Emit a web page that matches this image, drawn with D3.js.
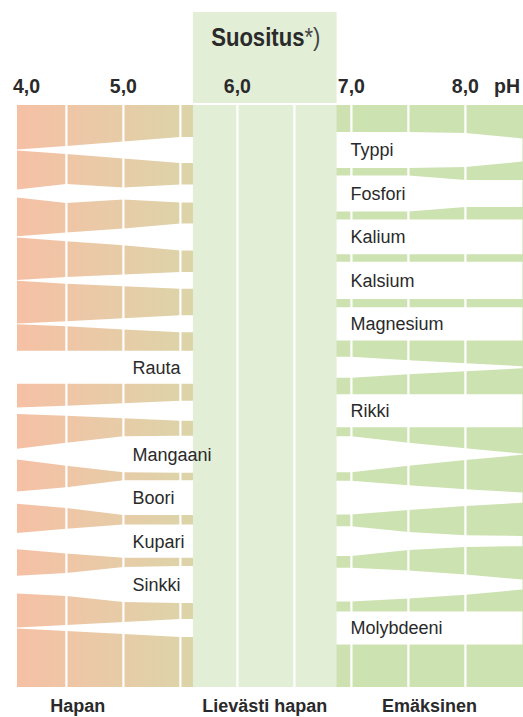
<!DOCTYPE html>
<html>
<head>
<meta charset="utf-8">
<script src="https://cdn.jsdelivr.net/npm/d3@7"></script>
<style>
  body { margin: 0; background: #fff; }
  text { font-family: "Liberation Sans", Arial, sans-serif; fill: #2a2a2a; }
</style>
</head>
<body>
<div id="chart"></div>
<script>
// pH points where the availability is given
const pHs = [4, 4.5, 5, 5.5, 6, 6.5, 7, 7.5, 8, 8.5];

const nutrients = ["Typpi", "Fosfori", "Kalium", "Kalsium", "Magnesium", "Rauta",
    "Rikki", "Mangaani", "Boori", "Kupari", "Sinkki", "Molybdeeni"];
const labelSide = ["right", "right", "right", "right", "right", "left",
    "right", "left", "left", "left", "left", "right"];

// relative availability (0-10) at each pH above
const typpi = [0, 2.2, 4.7, 7.2, 7.2, 10, 10, 10, 9.4, 6.4];
const fosfori = [1.7, 5.3, 3.3, 5, 5, 10, 10, 10, 7.5, 7.5];
const kalium = [0, 2.4, 4.7, 7.5, 7.5, 9.7, 9.7, 9.7, 9.7, 9.7];
const kalsium = [0, 1.9, 3.3, 4.7, 4.7, 10.3, 10.3, 10.3, 10.3, 10.3];
const magnesium = [0, 1.4, 3.1, 4.7, 4.7, 9.2, 9.2, 9.2, 9.2, 9.2];
const rauta = [9.2, 9.2, 9.2, 9.2, 9.2, 5.8, 5.8, 3.9, 2.2, 0.6];
const rikki = [1.7, 2.8, 4.2, 5.6, 5.6, 9.2, 9.2, 9.2, 9.2, 9.2];
const mangaani = [2.5, 6.4, 10, 10.3, 10.3, 10, 10, 6.4, 3.3, 0.3];
const boori = [3.1, 5.8, 9.7, 9.7, 9.7, 9.4, 9.4, 6.9, 4.7, 2.8];
const kupari = [4.2, 6.9, 9.2, 9.2, 9.2, 8.3, 8.3, 5, 3.3, 2.8];
const sinkki = [4.7, 6.4, 9.7, 10.3, 10.3, 9.4, 9.4, 7.8, 5.6, 2.8];
const molybdeeni = [0, 1.7, 3.3, 5, 5, 9.2, 9.2, 9.2, 9.2, 9.2];
const series = [typpi, fosfori, kalium, kalsium, magnesium, rauta,
    rikki, mangaani, boori, kupari, sinkki, molybdeeni];

const tickValues = [4, 5, 6, 7, 8];
const gridValues = [4.5, 5, 5.5, 6, 6.5, 7, 7.5, 8];
const recommended = [5.61, 6.87];
const zones = [
    { label: "Hapan", pH: 4.6 },
    { label: "Lievästi hapan", pH: (5.61 + 6.87) / 2 },
    { label: "Emäksinen", pH: (6.87 + 8.5) / 2 }
];

const width = 523, height = 717;
const plotLeft = 17, plotRight = 523, plotTop = 105, plotBottom = 687;

const svg = d3.select("#chart")
    .append("svg")
    .attr("width", width)
    .attr("height", height);

const x = d3.scaleLinear().domain([4, 8.5]).range([9.4, 522.4]);
const y = d3.scalePoint().domain(nutrients).range([150, 628]);
const w = d3.scaleLinear().domain([0, 10]).range([0, 36]);

const fmt = d3.formatLocale({ decimal: ",", thousands: " ", grouping: [3], currency: ["", "€"] }).format(".1f");

const defs = svg.append("defs");
const grad = defs.append("linearGradient")
    .attr("id", "acid")
    .attr("gradientUnits", "userSpaceOnUse")
    .attr("x1", plotLeft).attr("x2", x(7))
    .attr("y1", 0).attr("y2", 0);
grad.append("stop").attr("offset", 0).attr("stop-color", "#f6c0a5");
grad.append("stop").attr("offset", 0.5).attr("stop-color", "#ddd3a9");
grad.append("stop").attr("offset", 1).attr("stop-color", "#cde2b1");

defs.append("clipPath").attr("id", "plot")
    .append("rect")
    .attr("x", plotLeft).attr("y", plotTop)
    .attr("width", plotRight - plotLeft).attr("height", plotBottom - plotTop);

const plot = svg.append("g").attr("clip-path", "url(#plot)");

// coloured background
plot.append("rect")
    .attr("x", plotLeft).attr("y", plotTop)
    .attr("width", plotRight - plotLeft).attr("height", plotBottom - plotTop)
    .attr("fill", "url(#acid)");

// nutrient availability bands (white)
const area = d3.area()
    .x(d => x(d.pH))
    .y0(d => d.c - w(d.v) / 2)
    .y1(d => d.c + w(d.v) / 2);

plot.selectAll("path.band")
    .data(nutrients)
    .join("path")
    .attr("class", "band")
    .attr("fill", "#fff")
    .attr("d", (n, i) => area(pHs.map((p, j) => ({ pH: p, v: series[i][j], c: y(n) }))));

// recommended pH band
const bandX = x(recommended[0]), bandW = x(recommended[1]) - x(recommended[0]);
svg.append("rect")
    .attr("x", bandX).attr("y", plotTop)
    .attr("width", bandW)
    .attr("height", plotBottom - plotTop)
    .attr("fill", "#e2eed6");
svg.append("rect")
    .attr("x", bandX).attr("y", 12)
    .attr("width", bandW)
    .attr("height", plotTop - 2 - 12)
    .attr("fill", "#e2eed6");

// grid lines
svg.selectAll("line.grid")
    .data(gridValues)
    .join("line")
    .attr("class", "grid")
    .attr("x1", d => x(d)).attr("x2", d => x(d))
    .attr("y1", plotTop).attr("y2", plotBottom)
    .attr("stroke", "#fff")
    .attr("stroke-width", 2.2);

// pH tick labels
svg.selectAll("text.tick")
    .data(tickValues)
    .join("text")
    .attr("class", "tick")
    .attr("x", (d, i) => i === 0 ? plotLeft - 4 : x(d))
    .attr("y", 93)
    .attr("text-anchor", (d, i) => i === 0 ? "start" : "middle")
    .attr("font-size", 19.5)
    .attr("font-weight", "bold")
    .text(d => fmt(d));

svg.append("text")
    .attr("x", 520).attr("y", 93)
    .attr("text-anchor", "end")
    .attr("font-size", 19.5)
    .attr("font-weight", "bold")
    .text("pH");

// header, squeezed horizontally for a condensed look
const head = svg.append("text")
    .attr("transform", `translate(${bandX + bandW / 2 + 1},46) scale(0.85,1)`)
    .attr("text-anchor", "middle")
    .attr("font-size", 26);
head.append("tspan").attr("font-weight", "bold").text("Suositus");
head.append("tspan").attr("fill", "#444").text("*)");

// nutrient labels
svg.selectAll("text.nutrient")
    .data(nutrients)
    .join("text")
    .attr("class", "nutrient")
    .attr("x", (d, i) => labelSide[i] === "left" ? x(5) + 9 : x(7) - 1)
    .attr("y", d => y(d))
    .attr("dy", "0.36em")
    .attr("font-size", 18)
    .text(d => d);

// zone labels
svg.selectAll("text.zone")
    .data(zones)
    .join("text")
    .attr("class", "zone")
    .attr("x", d => x(d.pH))
    .attr("y", 712)
    .attr("text-anchor", "middle")
    .attr("font-size", 18)
    .attr("font-weight", "bold")
    .text(d => d.label);
</script>
</body>
</html>
